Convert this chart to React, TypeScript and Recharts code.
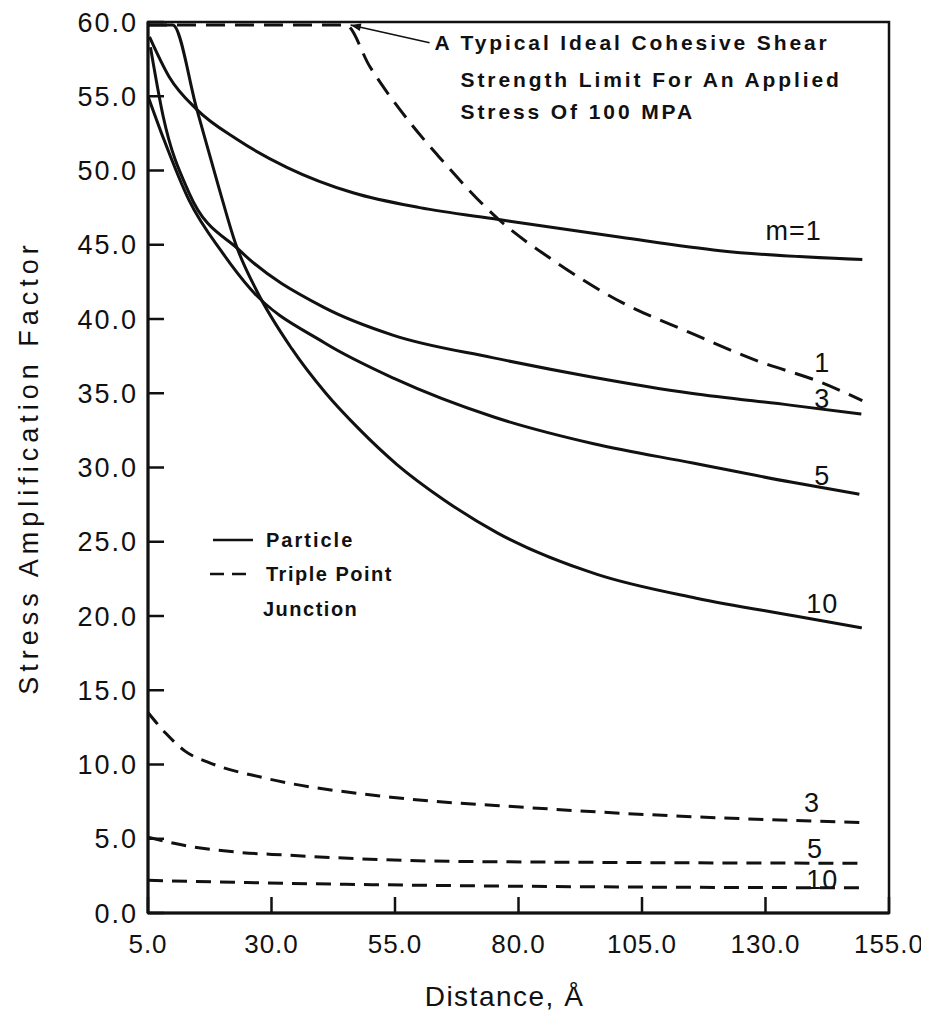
import { LineChart, Line, XAxis, YAxis, ReferenceArea, ReferenceLine, ReferenceDot, Legend, Label } from 'recharts';

const INK = '#111';
const FONT = "'Liberation Sans', Arial, Helvetica, sans-serif";

const xTicks = [5, 30, 55, 80, 105, 130, 155];
const yTicks = [0, 5, 10, 15, 20, 25, 30, 35, 40, 45, 50, 55, 60];

// particle (solid), [distance, factor]
const particleM1 = [[5.3, 59.0], [9.3, 56.3], [14.9, 54.1], [23, 52.1], [33.2, 50.2], [46.5, 48.5], [60, 47.5], [76, 46.7], [100.7, 45.5], [120.8, 44.6], [149.6, 44.0]];
const particleM3 = [[5.5, 58.3], [8.1, 53.6], [13.3, 48.5], [23.6, 44.6], [40.5, 40.8], [54.7, 38.9], [74.7, 37.4], [94.8, 36.1], [114.9, 35.0], [135, 34.2], [149.4, 33.6]];
const particleM5 = [[5, 55.0], [8.2, 52.1], [13.3, 48.0], [20.2, 44.4], [25.8, 42.0], [40.7, 38.4], [54.8, 36.0], [75, 33.4], [95.2, 31.6], [115.3, 30.3], [135.4, 29.0], [149, 28.2]];
const particleM10 = [[5, 59.8], [10, 59.8], [14.9, 54.1], [19.3, 48.9], [22.8, 45.0], [27, 41.9], [34.1, 38.0], [41, 35.0], [47.7, 32.6], [55.4, 30.2], [65, 27.8], [75.7, 25.6], [95.9, 22.8], [116, 21.2], [136, 20.0], [149.5, 19.2]];

// triple point junction (dashed)
const junctionM1 = [[5, 59.8], [45, 59.8], [49.9, 57.0], [58.1, 53.2], [63.7, 51.0], [76, 46.7], [87.7, 43.8], [101, 41.1], [114.6, 39.1], [128.2, 37.2], [141.5, 35.7], [149.6, 34.5]];
const junctionM3 = [[5, 13.5], [8.6, 12.1], [12.5, 10.9], [17.6, 10.1], [28.5, 9.1], [54.2, 7.8], [81.9, 7.1], [101.7, 6.7], [121.3, 6.4], [149, 6.1]];
const junctionM5 = [[5, 5.1], [13.2, 4.5], [22.9, 4.1], [32.9, 3.9], [62.5, 3.5], [102, 3.4], [150, 3.35]];
const junctionM10 = [[5, 2.2], [25, 2.05], [52.6, 1.9], [102, 1.75], [150, 1.7]];

const curveLabels = [
  { text: 'm=1', x: 130, y: 45.3, anchor: 'start' },
  { text: '1', x: 141.5, y: 36.4, anchor: 'middle' },
  { text: '3', x: 141.5, y: 34.0, anchor: 'middle' },
  { text: '5', x: 141.5, y: 28.8, anchor: 'middle' },
  { text: '10', x: 141.5, y: 20.2, anchor: 'middle' },
  { text: '3', x: 139.4, y: 6.8, anchor: 'middle' },
  { text: '5', x: 140, y: 3.7, anchor: 'middle' },
  { text: '10', x: 141.5, y: 1.6, anchor: 'middle' },
];

const noteLines = ['A Typical Ideal Cohesive Shear', 'Strength Limit For An Applied', 'Stress Of 100  MPA'];

const toPts = (pairs: number[][]) => pairs.map(([x, y]) => ({ x, y }));

const series = [
  { key: 'p1', data: particleM1, dash: undefined },
  { key: 'p3', data: particleM3, dash: undefined },
  { key: 'p5', data: particleM5, dash: undefined },
  { key: 'p10', data: particleM10, dash: undefined },
  { key: 'j1', data: junctionM1, dash: '19 10' },
  { key: 'j3', data: junctionM3, dash: '15 9' },
  { key: 'j5', data: junctionM5, dash: '15 9' },
  { key: 'j10', data: junctionM10, dash: '15 9' },
];

const YTick = ({ x, y, payload }: any) => (
  <text x={x} y={y} dy="0.36em" textAnchor="end" fill={INK} fontFamily={FONT} fontSize={27} letterSpacing={2}>
    {Number(payload.value).toFixed(1)}
  </text>
);

const XTick = ({ x, y, payload }: any) => (
  <text x={x} y={y} textAnchor="middle" fill={INK} fontFamily={FONT} fontSize={26} letterSpacing={1}>
    {Number(payload.value).toFixed(1)}
  </text>
);

const Arrow = (p: any) => {
  const { x1, y1, x2, y2 } = p;
  const a = Math.atan2(y1 - y2, x1 - x2);
  const len = 11;
  const w = 0.35;
  const ax = x1 - len * Math.cos(a - w);
  const ay = y1 - len * Math.sin(a - w);
  const bx = x1 - len * Math.cos(a + w);
  const by = y1 - len * Math.sin(a + w);
  return (
    <g>
      <line x1={x1} y1={y1} x2={x2} y2={y2} stroke={INK} strokeWidth={1.6} />
      <polygon points={`${x1},${y1} ${ax},${ay} ${bx},${by}`} fill={INK} />
    </g>
  );
};

const LegendBox = () => (
  <svg width={190} height={105} style={{ display: 'block', overflow: 'visible' }}>
    <line x1={8} y1={18} x2={48} y2={18} stroke={INK} strokeWidth={2.5} />
    <text x={61} y={25} fill={INK} fontFamily={FONT} fontSize={20} fontWeight={700} letterSpacing={2}>Particle</text>
    <line x1={5} y1={52} x2={48} y2={52} stroke={INK} strokeWidth={2.5} strokeDasharray="14 8" />
    <text x={61} y={59} fill={INK} fontFamily={FONT} fontSize={20} fontWeight={700} letterSpacing={1.5}>Triple Point</text>
    <text x={58} y={94} fill={INK} fontFamily={FONT} fontSize={20} fontWeight={700} letterSpacing={1.5}>Junction</text>
  </svg>
);

export default function App() {
  return (
    <LineChart width={921} height={1005} margin={{ top: 14, right: 40, left: 0, bottom: 0 }}>
      <XAxis
        type="number"
        dataKey="x"
        domain={[5, 155]}
        ticks={xTicks}
        allowDataOverflow
        height={100}
        axisLine={{ stroke: INK, strokeWidth: 3 }}
        tickLine={{ stroke: INK, strokeWidth: 2.5 }}
        tickSize={-16}
        tickMargin={56}
        tick={<XTick />}
      >
        <Label
          content={(p: any) => (
            <text
              x={p.viewBox.x + p.viewBox.width / 2 - 14}
              y={p.viewBox.y + 93}
              textAnchor="middle"
              fill={INK}
              fontFamily={FONT}
              fontSize={28}
              letterSpacing={1.5}
            >
              Distance, Å
            </text>
          )}
        />
      </XAxis>
      <YAxis
        type="number"
        domain={[0, 60]}
        ticks={yTicks}
        allowDataOverflow
        width={140}
        axisLine={{ stroke: INK, strokeWidth: 3 }}
        tickLine={{ stroke: INK, strokeWidth: 2.5 }}
        tickSize={-16}
        tickMargin={26}
        tick={<YTick />}
      >
        <Label
          content={(p: any) => {
            const cx = p.viewBox.x + 20;
            const cy = p.viewBox.y + p.viewBox.height / 2;
            return (
              <text
                x={cx}
                y={cy}
                transform={`rotate(-90 ${cx} ${cy})`}
                dy="0.36em"
                textAnchor="middle"
                fill={INK}
                fontFamily={FONT}
                fontSize={27}
                letterSpacing={5}
              >
                Stress Amplification Factor
              </text>
            );
          }}
        />
      </YAxis>
      <ReferenceArea x1={5} x2={155} y1={0} y2={60} fill="none" stroke={INK} strokeWidth={2.5} ifOverflow="visible" />
      {series.map((s) => (
        <Line
          key={s.key}
          data={toPts(s.data)}
          dataKey="y"
          type="monotone"
          stroke={INK}
          strokeWidth={3}
          strokeDasharray={s.dash}
          dot={false}
          activeDot={false}
          legendType="none"
          isAnimationActive={false}
        />
      ))}
      <ReferenceLine
        segment={[{ x: 46, y: 59.8 }, { x: 62, y: 58.6 }]}
        ifOverflow="visible"
        shape={<Arrow />}
      />
      <ReferenceDot
        x={63}
        y={58.1}
        r={0}
        fill="none"
        stroke="none"
        ifOverflow="visible"
        label={(p: any) => (
          <text fill={INK} fontFamily={FONT} fontSize={21} fontWeight={700} letterSpacing={2.9}>
            {noteLines.map((t, i) => (
              <tspan key={i} x={p.viewBox.x + (i === 0 ? 0 : 26)} y={p.viewBox.y + [0, 37, 69][i]}>
                {t}
              </tspan>
            ))}
          </text>
        )}
      />
      {curveLabels.map((c, i) => (
        <ReferenceDot
          key={i}
          x={c.x}
          y={c.y}
          r={0}
          fill="none"
          stroke="none"
          ifOverflow="visible"
          label={(p: any) => (
            <text x={p.viewBox.x} y={p.viewBox.y} textAnchor={c.anchor} fill={INK} fontFamily={FONT} fontSize={27} letterSpacing={1}>
              {c.text}
            </text>
          )}
        />
      ))}
      <Legend
        layout="horizontal"
        verticalAlign="middle"
        align="center"
        width={190}
        wrapperStyle={{ left: 197, top: 514, width: 190, height: 105 }}
        content={() => <LegendBox />}
      />
    </LineChart>
  );
}
